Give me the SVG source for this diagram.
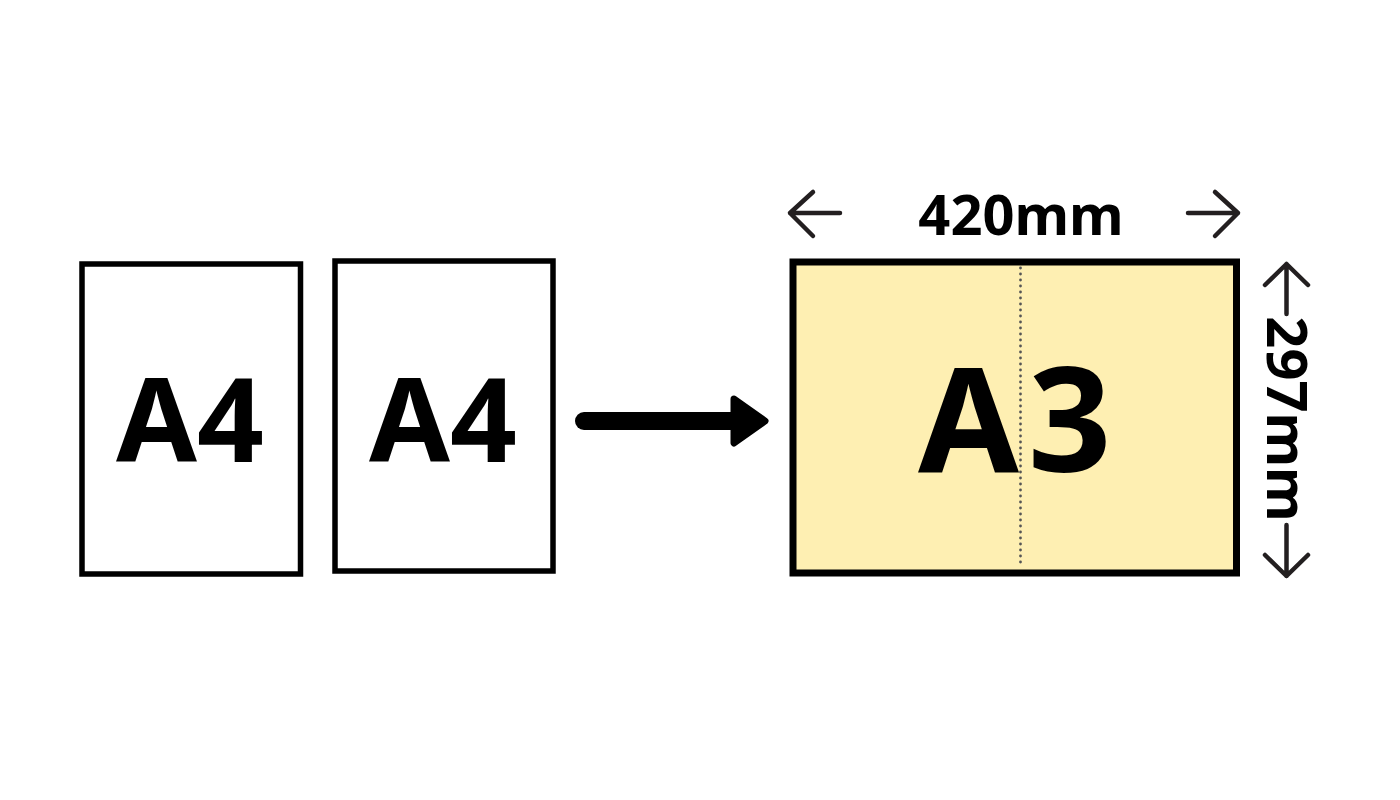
<svg xmlns="http://www.w3.org/2000/svg" width="1400" height="800" viewBox="0 0 1400 800">
<style>
.sheet{fill:#fff;stroke:#000;stroke-width:5.5}
.big{font-family:"Noto Sans","DejaVu Sans",sans-serif;font-weight:bold;fill:#000;text-anchor:middle}
.dim{fill:none;stroke:#231f20;stroke-width:4.5;stroke-linecap:round;stroke-linejoin:round}
</style>
<rect width="1400" height="800" fill="#fff"/>
<g id="a4-left">
<rect class="sheet" x="82" y="264" width="218.5" height="310"/>
<text class="big" x="190" y="462" font-size="117">A4</text>
</g>
<g id="a4-right">
<rect class="sheet" x="335" y="261" width="218" height="310"/>
<text class="big" x="443" y="462" font-size="117">A4</text>
</g>
<g id="a3">
<rect x="793" y="262" width="443.5" height="311" fill="#FEEFB2" stroke="#000" stroke-width="7"/>
<line x1="1020.5" y1="268" x2="1020.5" y2="568" stroke="#555" stroke-width="2.8" stroke-linecap="round" stroke-dasharray="0 6"/>
<text class="big" x="918" y="472" font-size="146" letter-spacing="9" style="text-anchor:start">A3</text>
</g>
<g id="width-label">
<path class="dim" d="M840,213 H790 M813,192 L790,213 L813,236"/>
<path class="dim" d="M1188,213 H1238 M1215,192 L1238,213 L1215,236"/>
<text class="big" x="1021" y="235" font-size="56">420mm</text>
</g>
<g id="height-label">
<path class="dim" d="M1286.5,314 V264 M1265,285 L1286.5,264 L1308,285"/>
<path class="dim" d="M1286.5,525 V576 M1265,555 L1286.5,576 L1308,555"/>
<text class="big" font-size="56" transform="translate(1267,419) rotate(90)">297mm</text>
</g>
<g id="connectors">
<line x1="584" y1="421" x2="740" y2="421" stroke="#000" stroke-width="18" stroke-linecap="round"/>
<polygon points="734,399 765,421 734,443" fill="#000" stroke="#000" stroke-width="7" stroke-linejoin="round"/>
</g>
</svg>
